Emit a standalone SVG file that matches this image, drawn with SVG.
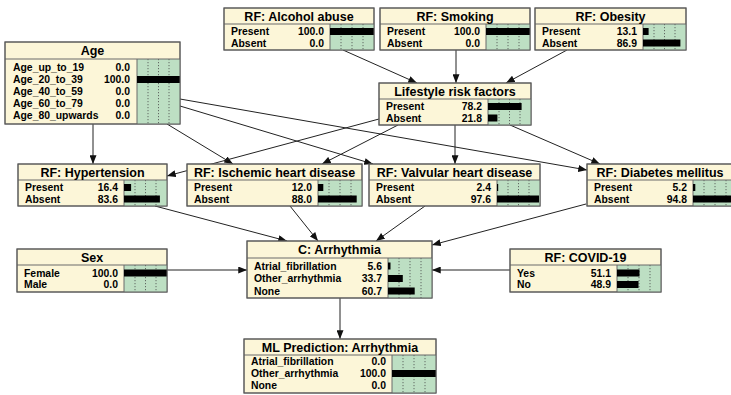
<svg xmlns="http://www.w3.org/2000/svg" width="731" height="395" viewBox="0 0 731 395">
<defs>
<marker id="ah" viewBox="0 0 10 8" refX="10" refY="4" markerWidth="9" markerHeight="7" markerUnits="userSpaceOnUse" orient="auto"><path d="M0,0 L10,4 L0,8 z" fill="#111"/></marker>
</defs>
<style>
.box{fill:#fcf6d8;stroke:#5a5a5a;stroke-width:1}
.ba{fill:#bddfc3}
.sep{stroke:#6a6a6a;stroke-width:1}
.dot{stroke:#4a4a4a;stroke-width:0.8;stroke-dasharray:1.2 1.8}
.hdr{font-family:"Liberation Sans",Arial,sans-serif;font-weight:bold;font-size:12.5px;text-anchor:middle;fill:#000}
.lbl{font-family:"Liberation Sans",Arial,sans-serif;font-weight:bold;font-size:10.4px;fill:#000}
.val{font-family:"Liberation Sans",Arial,sans-serif;font-weight:bold;font-size:10.4px;text-anchor:end;fill:#000}
.bar{fill:#000}
.edge{stroke:#222;stroke-width:1;fill:none;marker-end:url(#ah)}
</style>
<rect width="731" height="395" fill="#fff"/>
<g id="connectors">
<path class="edge" d="M343,50 L417,83"/>
<path class="edge" d="M456,50 L456,83"/>
<path class="edge" d="M567,50 L506,83"/>
<path class="edge" d="M93,124 L93,164"/>
<path class="edge" d="M167,124 L233,164"/>
<path class="edge" d="M180,106 L373,164"/>
<path class="edge" d="M180,99 L587,170"/>
<path class="edge" d="M379,119 L167,176"/>
<path class="edge" d="M398,125 L322,164"/>
<path class="edge" d="M455,125 L455,164"/>
<path class="edge" d="M510,125 L600,164"/>
<path class="edge" d="M155,206 L287,241"/>
<path class="edge" d="M290,206 L318,241"/>
<path class="edge" d="M425,206 L376,241"/>
<path class="edge" d="M586,204 L432,245"/>
<path class="edge" d="M167,270 L247,270"/>
<path class="edge" d="M510,270 L432,270"/>
<path class="edge" d="M340,298 L340,339"/>
</g>
<g id="alcohol">
<rect class="box" x="224" y="8" width="150" height="42"/>
<rect class="ba" x="330" y="24" width="44" height="26"/>
<line class="dot" x1="341" y1="24" x2="341" y2="50"/><line class="dot" x1="352" y1="24" x2="352" y2="50"/><line class="dot" x1="363" y1="24" x2="363" y2="50"/>
<line class="sep" x1="224" y1="24" x2="374" y2="24"/><line class="sep" x1="330" y1="24" x2="330" y2="50"/>
<rect class="bar" x="330" y="28" width="44" height="7"/>
<rect class="box" x="224" y="8" width="150" height="42" fill="none" style="fill:none"/>
<text class="hdr" x="299" y="20.5">RF: Alcohol abuse</text>
<text class="lbl" x="231" y="35.2">Present</text><text class="val" x="324" y="35.2">100.0</text>
<text class="lbl" x="231" y="46.7">Absent</text><text class="val" x="324" y="46.7">0.0</text>
</g>
<g id="smoking">
<rect class="box" x="380" y="8" width="150" height="42"/>
<rect class="ba" x="486" y="24" width="44" height="26"/>
<line class="dot" x1="497" y1="24" x2="497" y2="50"/><line class="dot" x1="508" y1="24" x2="508" y2="50"/><line class="dot" x1="519" y1="24" x2="519" y2="50"/>
<line class="sep" x1="380" y1="24" x2="530" y2="24"/><line class="sep" x1="486" y1="24" x2="486" y2="50"/>
<rect class="bar" x="486" y="28" width="44" height="7"/>
<rect class="box" x="380" y="8" width="150" height="42" style="fill:none"/>
<text class="hdr" x="455" y="20.5">RF: Smoking</text>
<text class="lbl" x="387" y="35.2">Present</text><text class="val" x="480" y="35.2">100.0</text>
<text class="lbl" x="387" y="46.7">Absent</text><text class="val" x="480" y="46.7">0.0</text>
</g>
<g id="obesity">
<rect class="box" x="535" y="8" width="151" height="42"/>
<rect class="ba" x="643" y="24" width="43" height="26"/>
<line class="dot" x1="654" y1="24" x2="654" y2="50"/><line class="dot" x1="664.5" y1="24" x2="664.5" y2="50"/><line class="dot" x1="675" y1="24" x2="675" y2="50"/>
<line class="sep" x1="535" y1="24" x2="686" y2="24"/><line class="sep" x1="643" y1="24" x2="643" y2="50"/>
<rect class="bar" x="643" y="28" width="5.6" height="7"/>
<rect class="bar" x="643" y="39.5" width="37.4" height="7"/>
<rect class="box" x="535" y="8" width="151" height="42" style="fill:none"/>
<text class="hdr" x="610.5" y="20.5">RF: Obesity</text>
<text class="lbl" x="542" y="35.2">Present</text><text class="val" x="637" y="35.2">13.1</text>
<text class="lbl" x="542" y="46.7">Absent</text><text class="val" x="637" y="46.7">86.9</text>
</g>
<g id="age">
<rect class="box" x="5" y="42" width="175" height="82"/>
<rect class="ba" x="137" y="59" width="43" height="65"/>
<line class="dot" x1="148" y1="59" x2="148" y2="124"/><line class="dot" x1="158.5" y1="59" x2="158.5" y2="124"/><line class="dot" x1="169" y1="59" x2="169" y2="124"/>
<line class="sep" x1="5" y1="59" x2="180" y2="59"/><line class="sep" x1="137" y1="59" x2="137" y2="124"/>
<rect class="bar" x="137" y="76" width="43" height="7"/>
<rect class="box" x="5" y="42" width="175" height="82" style="fill:none"/>
<text class="hdr" x="92.5" y="55">Age</text>
<text class="lbl" x="13" y="71.2">Age_up_to_19</text><text class="val" x="130" y="71.2">0.0</text>
<text class="lbl" x="13" y="83.2">Age_20_to_39</text><text class="val" x="130" y="83.2">100.0</text>
<text class="lbl" x="13" y="95.2">Age_40_to_59</text><text class="val" x="130" y="95.2">0.0</text>
<text class="lbl" x="13" y="107.2">Age_60_to_79</text><text class="val" x="130" y="107.2">0.0</text>
<text class="lbl" x="13" y="119.2">Age_80_upwards</text><text class="val" x="130" y="119.2">0.0</text>
</g>
<g id="lifestyle">
<rect class="box" x="379" y="83" width="152" height="42"/>
<rect class="ba" x="488" y="99" width="43" height="26"/>
<line class="dot" x1="499" y1="99" x2="499" y2="125"/><line class="dot" x1="509.5" y1="99" x2="509.5" y2="125"/><line class="dot" x1="520" y1="99" x2="520" y2="125"/>
<line class="sep" x1="379" y1="99" x2="531" y2="99"/><line class="sep" x1="488" y1="99" x2="488" y2="125"/>
<rect class="bar" x="488" y="103" width="33.6" height="7"/>
<rect class="bar" x="488" y="114.5" width="9.4" height="7"/>
<rect class="box" x="379" y="83" width="152" height="42" style="fill:none"/>
<text class="hdr" x="455" y="95.5">Lifestyle risk factors</text>
<text class="lbl" x="386" y="110.2">Present</text><text class="val" x="482" y="110.2">78.2</text>
<text class="lbl" x="386" y="121.7">Absent</text><text class="val" x="482" y="121.7">21.8</text>
</g>
<g id="hypertension">
<rect class="box" x="18" y="164" width="149" height="42"/>
<rect class="ba" x="124" y="180" width="43" height="26"/>
<line class="dot" x1="135" y1="180" x2="135" y2="206"/><line class="dot" x1="145.5" y1="180" x2="145.5" y2="206"/><line class="dot" x1="156" y1="180" x2="156" y2="206"/>
<line class="sep" x1="18" y1="180" x2="167" y2="180"/><line class="sep" x1="124" y1="180" x2="124" y2="206"/>
<rect class="bar" x="124" y="184" width="7.1" height="7"/>
<rect class="bar" x="124" y="195.5" width="35.9" height="7"/>
<rect class="box" x="18" y="164" width="149" height="42" style="fill:none"/>
<text class="hdr" x="92.5" y="176.5">RF: Hypertension</text>
<text class="lbl" x="25" y="191.2">Present</text><text class="val" x="118" y="191.2">16.4</text>
<text class="lbl" x="25" y="202.7">Absent</text><text class="val" x="118" y="202.7">83.6</text>
</g>
<g id="ischemic">
<rect class="box" x="187" y="164" width="175" height="42"/>
<rect class="ba" x="318" y="180" width="44" height="26"/>
<line class="dot" x1="329" y1="180" x2="329" y2="206"/><line class="dot" x1="340" y1="180" x2="340" y2="206"/><line class="dot" x1="351" y1="180" x2="351" y2="206"/>
<line class="sep" x1="187" y1="180" x2="362" y2="180"/><line class="sep" x1="318" y1="180" x2="318" y2="206"/>
<rect class="bar" x="318" y="184" width="5.3" height="7"/>
<rect class="bar" x="318" y="195.5" width="38.7" height="7"/>
<rect class="box" x="187" y="164" width="175" height="42" style="fill:none"/>
<text class="hdr" x="274.5" y="176.5">RF: Ischemic heart disease</text>
<text class="lbl" x="194" y="191.2">Present</text><text class="val" x="312" y="191.2">12.0</text>
<text class="lbl" x="194" y="202.7">Absent</text><text class="val" x="312" y="202.7">88.0</text>
</g>
<g id="valvular">
<rect class="box" x="369" y="164" width="171" height="42"/>
<rect class="ba" x="497" y="180" width="43" height="26"/>
<line class="dot" x1="508" y1="180" x2="508" y2="206"/><line class="dot" x1="518.5" y1="180" x2="518.5" y2="206"/><line class="dot" x1="529" y1="180" x2="529" y2="206"/>
<line class="sep" x1="369" y1="180" x2="540" y2="180"/><line class="sep" x1="497" y1="180" x2="497" y2="206"/>
<rect class="bar" x="497" y="184" width="1.2" height="7"/>
<rect class="bar" x="497" y="195.5" width="42" height="7"/>
<rect class="box" x="369" y="164" width="171" height="42" style="fill:none"/>
<text class="hdr" x="454.5" y="176.5">RF: Valvular heart disease</text>
<text class="lbl" x="376" y="191.2">Present</text><text class="val" x="491" y="191.2">2.4</text>
<text class="lbl" x="376" y="202.7">Absent</text><text class="val" x="491" y="202.7">97.6</text>
</g>
<g id="diabetes">
<rect class="box" x="587" y="164" width="150" height="42"/>
<rect class="ba" x="693" y="180" width="44" height="26"/>
<line class="dot" x1="704" y1="180" x2="704" y2="206"/><line class="dot" x1="715" y1="180" x2="715" y2="206"/><line class="dot" x1="726" y1="180" x2="726" y2="206"/>
<line class="sep" x1="587" y1="180" x2="737" y2="180"/><line class="sep" x1="693" y1="180" x2="693" y2="206"/>
<rect class="bar" x="693" y="184" width="2.3" height="7"/>
<rect class="bar" x="693" y="195.5" width="41.7" height="7"/>
<rect class="box" x="587" y="164" width="150" height="42" style="fill:none"/>
<text class="hdr" x="660" y="176.5">RF: Diabetes mellitus</text>
<text class="lbl" x="594" y="191.2">Present</text><text class="val" x="687" y="191.2">5.2</text>
<text class="lbl" x="594" y="202.7">Absent</text><text class="val" x="687" y="202.7">94.8</text>
</g>
<g id="sex">
<rect class="box" x="17" y="249" width="150" height="43"/>
<rect class="ba" x="124" y="265" width="43" height="27"/>
<line class="dot" x1="135" y1="265" x2="135" y2="292"/><line class="dot" x1="145.5" y1="265" x2="145.5" y2="292"/><line class="dot" x1="156" y1="265" x2="156" y2="292"/>
<line class="sep" x1="17" y1="265" x2="167" y2="265"/><line class="sep" x1="124" y1="265" x2="124" y2="292"/>
<rect class="bar" x="124" y="269.5" width="43" height="7"/>
<rect class="box" x="17" y="249" width="150" height="43" style="fill:none"/>
<text class="hdr" x="92" y="261.5">Sex</text>
<text class="lbl" x="24" y="276.7">Female</text><text class="val" x="118" y="276.7">100.0</text>
<text class="lbl" x="24" y="288.2">Male</text><text class="val" x="118" y="288.2">0.0</text>
</g>
<g id="arrhythmia">
<rect class="box" x="247" y="241" width="185" height="57"/>
<rect class="ba" x="388" y="258" width="44" height="40"/>
<line class="dot" x1="399" y1="258" x2="399" y2="298"/><line class="dot" x1="410" y1="258" x2="410" y2="298"/><line class="dot" x1="421" y1="258" x2="421" y2="298"/>
<line class="sep" x1="247" y1="258" x2="432" y2="258"/><line class="sep" x1="388" y1="258" x2="388" y2="298"/>
<rect class="bar" x="388" y="262.5" width="2.5" height="7"/>
<rect class="bar" x="388" y="275" width="14.8" height="7"/>
<rect class="bar" x="388" y="287.5" width="26.7" height="7"/>
<rect class="box" x="247" y="241" width="185" height="57" style="fill:none"/>
<text class="hdr" x="339.5" y="254">C: Arrhythmia</text>
<text class="lbl" x="254" y="269.7">Atrial_fibrillation</text><text class="val" x="382" y="269.7">5.6</text>
<text class="lbl" x="254" y="282.2">Other_arrhythmia</text><text class="val" x="382" y="282.2">33.7</text>
<text class="lbl" x="254" y="294.7">None</text><text class="val" x="382" y="294.7">60.7</text>
</g>
<g id="covid">
<rect class="box" x="510" y="249" width="151" height="43"/>
<rect class="ba" x="617" y="265" width="44" height="27"/>
<line class="dot" x1="628" y1="265" x2="628" y2="292"/><line class="dot" x1="639" y1="265" x2="639" y2="292"/><line class="dot" x1="650" y1="265" x2="650" y2="292"/>
<line class="sep" x1="510" y1="265" x2="661" y2="265"/><line class="sep" x1="617" y1="265" x2="617" y2="292"/>
<rect class="bar" x="617" y="269.5" width="22.5" height="7"/>
<rect class="bar" x="617" y="281" width="21.5" height="7"/>
<rect class="box" x="510" y="249" width="151" height="43" style="fill:none"/>
<text class="hdr" x="585.5" y="261.5">RF: COVID-19</text>
<text class="lbl" x="517" y="276.7">Yes</text><text class="val" x="611" y="276.7">51.1</text>
<text class="lbl" x="517" y="288.2">No</text><text class="val" x="611" y="288.2">48.9</text>
</g>
<g id="ml_prediction">
<rect class="box" x="244" y="339" width="192" height="54"/>
<rect class="ba" x="392" y="355" width="44" height="38"/>
<line class="dot" x1="403" y1="355" x2="403" y2="393"/><line class="dot" x1="414" y1="355" x2="414" y2="393"/><line class="dot" x1="425" y1="355" x2="425" y2="393"/>
<line class="sep" x1="244" y1="355" x2="436" y2="355"/><line class="sep" x1="392" y1="355" x2="392" y2="393"/>
<rect class="bar" x="392" y="370" width="44" height="7"/>
<rect class="box" x="244" y="339" width="192" height="54" style="fill:none"/>
<text class="hdr" x="340" y="351.5">ML Prediction: Arrhythmia</text>
<text class="lbl" x="251" y="365.2">Atrial_fibrillation</text><text class="val" x="386" y="365.2">0.0</text>
<text class="lbl" x="251" y="377.2">Other_arrhythmia</text><text class="val" x="386" y="377.2">100.0</text>
<text class="lbl" x="251" y="389.2">None</text><text class="val" x="386" y="389.2">0.0</text>
</g>
</svg>
